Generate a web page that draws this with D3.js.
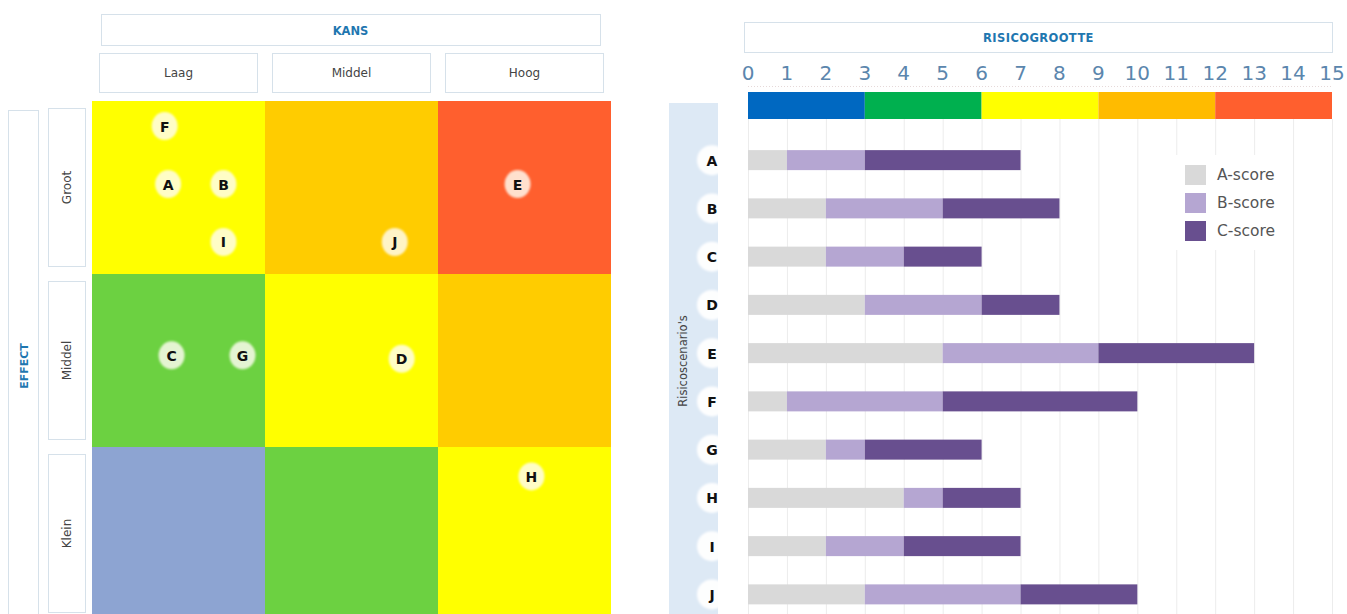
<!DOCTYPE html>
<html>
<head>
<meta charset="utf-8">
<script src="https://cdn.jsdelivr.net/npm/d3@7"></script>
<style>
  html, body { margin: 0; padding: 0; background: #fff; }
  svg { display: block; }
  text { font-family: "DejaVu Sans", Verdana, sans-serif; }
</style>
</head>
<body>
<svg id="chart" width="1347" height="614"></svg>
<script>
// ---- Risk matrix data ----
const kansLevels = ["Laag", "Middel", "Hoog"];
const effectLevels = ["Groot", "Middel", "Klein"];
// cell colours, row by row (Groot, Middel, Klein) x (Laag, Middel, Hoog)
const cellColors = [
  ["#ffff00", "#ffcc00", "#ff5f2e"],
  ["#6cd141", "#ffff00", "#ffcc00"],
  ["#8da4d2", "#6cd141", "#ffff00"]
];
// scenario positions in the matrix: kans 0..3 (left to right), effect 0..3 (bottom to top)
const scenarioNames = ["A", "B", "C", "D", "E", "F", "G", "H", "I", "J"];
const scenarioKans   = [0.44, 0.76, 0.46, 1.79, 2.46, 0.42, 0.87, 2.54, 0.76, 1.75];
const scenarioEffect = [2.52, 2.52, 1.53, 1.51, 2.52, 2.855, 1.53, 0.83, 2.185, 2.185];

// ---- Risk size data ----
const scoreKeys = ["A-score", "B-score", "C-score"];
const scoreColors = ["#d9d9d9", "#b5a6d2", "#684f8f"];
const aScore = [1, 2, 2, 3, 5, 1, 2, 4, 2, 3];
const bScore = [2, 3, 2, 3, 4, 4, 1, 1, 2, 4];
const cScore = [4, 3, 2, 2, 4, 5, 3, 2, 3, 3];
const sizeTicks = d3.range(0, 16);
const bandLimits = [0, 3, 6, 9, 12, 15];
const bandColors = ["#0068c1", "#00b04f", "#ffff00", "#ffbb00", "#ff5f2e"];

const svg = d3.select("#chart");
const boxStroke = "#d6e1ea";
const titleBlue = "#1f77b0";

// =================== Left: risk matrix ===================
const mx = d3.scaleBand().domain(kansLevels).range([92, 611]);
const my = d3.scaleBand().domain(effectLevels).range([101, 620]);
const kx = d3.scaleLinear().domain([0, 3]).range([92, 611]);
const ey = d3.scaleLinear().domain([0, 3]).range([620, 101]);

const left = svg.append("g");

// KANS title box
left.append("rect").attr("x", 101.5).attr("y", 14.5).attr("width", 499).attr("height", 31)
  .attr("fill", "#fff").attr("stroke", boxStroke);
left.append("text").attr("x", 350.5).attr("y", 34.5).attr("text-anchor", "middle")
  .attr("font-size", 11.5).attr("font-weight", "bold").attr("fill", titleBlue).text("KANS");

// column header boxes
const colHead = left.selectAll(".colhead").data(kansLevels).join("g").attr("class", "colhead");
colHead.append("rect")
  .attr("x", d => mx(d) + 7.5).attr("y", 53.5)
  .attr("width", mx.bandwidth() - 15).attr("height", 39)
  .attr("fill", "#fff").attr("stroke", boxStroke);
colHead.append("text")
  .attr("x", d => mx(d) + mx.bandwidth() / 2).attr("y", 77)
  .attr("text-anchor", "middle").attr("font-size", 12).attr("fill", "#444")
  .text(d => d);

// EFFECT title box
left.append("rect").attr("x", 8.5).attr("y", 110.5).attr("width", 30).attr("height", 520)
  .attr("fill", "#fff").attr("stroke", boxStroke);
left.append("text").attr("transform", "translate(27.5,366) rotate(-90)")
  .attr("text-anchor", "middle").attr("font-size", 11).attr("font-weight", "bold")
  .attr("fill", titleBlue).text("EFFECT");

// row header boxes
const rowHead = left.selectAll(".rowhead").data(effectLevels).join("g").attr("class", "rowhead");
rowHead.append("rect")
  .attr("x", 48.5).attr("y", d => my(d) + 7.5)
  .attr("width", 37).attr("height", my.bandwidth() - 15)
  .attr("fill", "#fff").attr("stroke", boxStroke);
rowHead.append("text")
  .attr("transform", d => `translate(71,${my(d) + my.bandwidth() / 2}) rotate(-90)`)
  .attr("text-anchor", "middle").attr("font-size", 12).attr("fill", "#444")
  .text(d => d);

// matrix cells
const cells = [];
effectLevels.forEach((e, i) => kansLevels.forEach((k, j) => cells.push({ e, k, c: cellColors[i][j] })));
left.selectAll(".cell").data(cells).join("rect").attr("class", "cell")
  .attr("x", d => mx(d.k)).attr("y", d => my(d.e))
  .attr("width", mx.bandwidth()).attr("height", my.bandwidth())
  .attr("fill", d => d.c);

// soft-edged scenario bubbles
const defs = svg.append("defs");
defs.append("filter").attr("id", "soft").attr("x", "-30%").attr("y", "-30%").attr("width", "160%").attr("height", "160%")
  .append("feGaussianBlur").attr("stdDeviation", 1);

const bubbles = left.selectAll(".bubble").data(scenarioNames).join("g").attr("class", "bubble")
  .attr("transform", (d, i) => `translate(${kx(scenarioKans[i])},${ey(scenarioEffect[i])})`);
bubbles.append("ellipse").attr("rx", 13).attr("ry", 14)
  .attr("fill", "#fffdf2").attr("fill-opacity", 0.82).attr("filter", "url(#soft)");
bubbles.append("text").attr("y", 5.5).attr("text-anchor", "middle")
  .attr("font-size", 14).attr("font-weight", "bold").attr("fill", "#111")
  .text(d => d);

// =================== Right: risk size bars ===================
const x = d3.scaleLinear().domain([0, 15]).range([748, 1332]);
const y = d3.scaleBand().domain(scenarioNames).range([136, 618.5]);
const barH = 20;

const right = svg.append("g");

// RISICOGROOTTE title box
right.append("rect").attr("x", 744.5).attr("y", 22.5).attr("width", 588).attr("height", 30)
  .attr("fill", "#fff").attr("stroke", boxStroke);
right.append("text").attr("x", 1038.5).attr("y", 41.5).attr("text-anchor", "middle")
  .attr("font-size", 11.5).attr("font-weight", "bold").attr("fill", titleBlue)
  .attr("letter-spacing", 0.4).text("RISICOGROOTTE");

// scale numbers
right.selectAll(".tick").data(sizeTicks).join("text").attr("class", "tick")
  .attr("x", d => x(d)).attr("y", 80)
  .attr("text-anchor", "middle").attr("font-size", 20)
  .attr("font-family", "'Open Sans', sans-serif").attr("font-weight", 400)
  .attr("fill", "#5b86ad")
  .text(d => d);
right.append("line").attr("x1", x(0)).attr("x2", x(15)).attr("y1", 86.5).attr("y2", 86.5)
  .attr("stroke", "#e6d9d9").attr("stroke-dasharray", "1,2");

// coloured risk band
const bands = d3.range(bandColors.length).map(i => ({ a: bandLimits[i], b: bandLimits[i + 1], c: bandColors[i] }));
right.selectAll(".band").data(bands).join("rect").attr("class", "band")
  .attr("x", d => x(d.a)).attr("y", 92)
  .attr("width", d => x(d.b) - x(d.a)).attr("height", 27)
  .attr("fill", d => d.c);

// scenario column background
right.append("rect").attr("x", 669).attr("y", 103).attr("width", 49).attr("height", 520)
  .attr("fill", "#dde9f5");
right.append("text").attr("transform", "translate(687,361) rotate(-90)")
  .attr("text-anchor", "middle").attr("font-size", 11.5).attr("fill", "#444")
  .text("Risicoscenario's");

// vertical grid lines
right.selectAll(".grid").data(sizeTicks).join("line").attr("class", "grid")
  .attr("x1", d => x(d) + 0.5).attr("x2", d => x(d) + 0.5)
  .attr("y1", 119).attr("y2", 614)
  .attr("stroke", "#ececec");

// stacked bars
const rows = scenarioNames.map((name, i) => ({ name, "A-score": aScore[i], "B-score": bScore[i], "C-score": cScore[i] }));
const stack = d3.stack().keys(scoreKeys)(rows);
const color = d3.scaleOrdinal().domain(scoreKeys).range(scoreColors);
right.selectAll(".series").data(stack).join("g").attr("class", "series")
  .attr("fill", d => color(d.key))
  .selectAll("rect").data(d => d).join("rect")
  .attr("x", d => x(d[0])).attr("width", d => x(d[1]) - x(d[0]))
  .attr("y", d => y(d.data.name) + y.bandwidth() / 2 - barH / 2).attr("height", barH);

// scenario letter circles
const lab = right.selectAll(".lab").data(scenarioNames).join("g").attr("class", "lab")
  .attr("transform", d => `translate(712,${y(d) + y.bandwidth() / 2})`);
lab.append("circle").attr("r", 15).attr("fill", "#fff").attr("fill-opacity", 0.95).attr("filter", "url(#soft)");
lab.append("text").attr("y", 5.5).attr("text-anchor", "middle")
  .attr("font-size", 14).attr("font-weight", "bold").attr("fill", "#111")
  .text(d => d);

// legend
const legend = right.append("g").attr("transform", "translate(1185,165)");
legend.append("rect").attr("x", -12).attr("y", -10).attr("width", 120).attr("height", 95).attr("fill", "#fff");
const li = legend.selectAll(".li").data(scoreKeys).join("g").attr("class", "li")
  .attr("transform", (d, i) => `translate(0,${i * 28})`);
li.append("rect").attr("width", 21).attr("height", 20).attr("fill", d => color(d));
li.append("text").attr("x", 32).attr("y", 15).attr("font-size", 15.5).attr("fill", "#555")
  .text(d => d);
</script>
</body>
</html>
